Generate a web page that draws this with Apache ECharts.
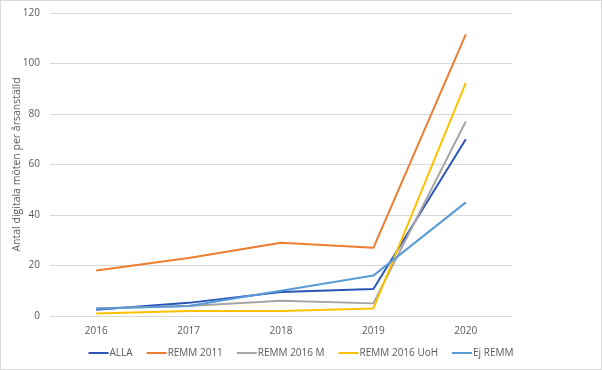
<!DOCTYPE html>
<html><head><meta charset="utf-8">
<script src="https://cdn.jsdelivr.net/npm/echarts@6/dist/echarts.min.js"></script>
<style>html,body{margin:0;padding:0;background:#fff}#c{width:600px;height:368px;border:1px solid #d9d9d9}</style>
</head><body><div id="c"></div>
<script>
const categories = ['2016','2017','2018','2019','2020'];
const alla = [2.5, 5.2, 9.5, 10.7, 70];
const remm2011 = [18, 23, 29, 27, 111.5];
const remm2016M = [3, 4, 6, 5, 77];
const remm2016UoH = [1, 2, 2, 3, 92.3];
const ejRemm = [3, 4, 10, 16, 45];
const yTicks = {min: 0, max: 120, interval: 20};

const names = ['ALLA','REMM 2011','REMM 2016 M','REMM 2016 UoH','Ej REMM'];
const data = [alla, remm2011, remm2016M, remm2016UoH, ejRemm];
const colors = ['#2c55b8','#ed7d31','#a5a5a5','#ffc000','#5b9bd5'];
const font = 'Open Sans, sans-serif';

const chart = echarts.init(document.getElementById('c'));
chart.setOption({
  animation: false,
  color: colors,
  grid: {left: 49, right: 89, top: 12, bottom: 53, containLabel: false, outerBoundsMode: 'none'},
  legend: {
    bottom: 6, left: 'center', itemGap: 14, itemWidth: 20, itemHeight: 2, icon: 'rect',
    textStyle: {color: '#595959', fontSize: 10, fontFamily: font, padding: [0,0,0,-4]},
    data: names
  },
  xAxis: {
    type: 'category', data: categories,
    axisLine: {show: false}, axisTick: {show: false},
    axisLabel: {color: '#595959', fontSize: 10, fontFamily: font, margin: 10}
  },
  yAxis: {
    type: 'value', min: yTicks.min, max: yTicks.max, interval: yTicks.interval,
    name: 'Antal digitala möten per årsanställd', nameLocation: 'middle', nameGap: 27,
    nameMoveOverlap: false,
    nameTextStyle: {color: '#595959', fontSize: 10.5, fontFamily: font},
    axisLabel: {color: '#595959', fontSize: 10, fontFamily: font, margin: 10},
    splitLine: {lineStyle: {color: '#d9d9d9', width: 1}}
  },
  series: names.map((n, i) => ({
    name: n, type: 'line', data: data[i], showSymbol: false, symbol: 'none',
    lineStyle: {width: 2, color: colors[i]}, itemStyle: {color: colors[i]}
  }))
});
</script></body></html>
